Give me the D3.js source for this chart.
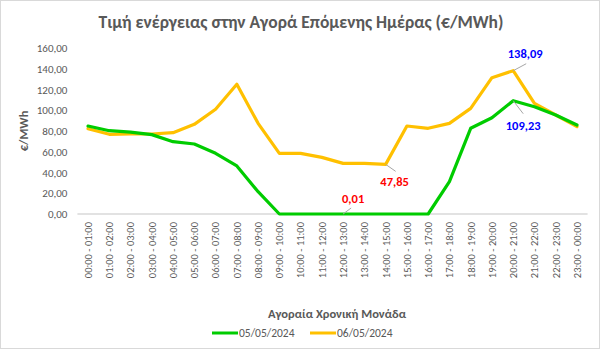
<!DOCTYPE html>
<html>
<head>
<meta charset="utf-8">
<script src="https://cdn.jsdelivr.net/npm/d3@7"></script>
<style>
  body { margin: 0; background: #fff; }
  svg { display: block; font-family: Calibri, Carlito, "Open Sans", "Noto Sans", sans-serif; }
</style>
</head>
<body>
<svg id="chart" width="600" height="349"></svg>
<script>
// Hourly market time units
const hours = [
  "00:00 - 01:00","01:00 - 02:00","02:00 - 03:00","03:00 - 04:00","04:00 - 05:00","05:00 - 06:00",
  "06:00 - 07:00","07:00 - 08:00","08:00 - 09:00","09:00 - 10:00","10:00 - 11:00","11:00 - 12:00",
  "12:00 - 13:00","13:00 - 14:00","14:00 - 15:00","15:00 - 16:00","16:00 - 17:00","17:00 - 18:00",
  "18:00 - 19:00","19:00 - 20:00","20:00 - 21:00","21:00 - 22:00","22:00 - 23:00","23:00 - 00:00"
];

// Day-ahead price, €/MWh
const price0505 = [84.8, 80.3, 79.0, 76.5, 69.7, 67.5, 58.5, 46.3, 21.5, 0, 0, 0,
                   0.01, 0, 0, 0, 0, 31.2, 82.6, 92.8, 109.23, 103.4, 95.4, 85.8];
const price0605 = [82.2, 76.8, 77.1, 77.1, 78.4, 86.4, 100.9, 125.0, 87.4, 58.5, 58.5, 54.6,
                   48.8, 48.8, 47.85, 84.8, 82.6, 87.4, 101.8, 131.4, 138.09, 106.7, 95.4, 84.2];

const yTicks = [0, 20, 40, 60, 80, 100, 120, 140, 160];

const seriesNames = ["05/05/2024", "06/05/2024"];
const seriesColors = ["#00CC00", "#FFC000"];

// Highlighted values: series index, hour index, label colour
const highlights = [
  { s: 0, h: 12, color: "#FF0000" },
  { s: 1, h: 14, color: "#FF0000" },
  { s: 1, h: 20, color: "#0000FF" },
  { s: 0, h: 20, color: "#0000FF" }
];
// Label placement relative to the point: text centre and leader-line end
const highlightOffsets = [
  { tx: 10, ty: -15, lx: 8, ly: -6 },
  { tx: 9, ty: 17, lx: 10, ly: 7 },
  { tx: 12, ty: -17, lx: 13, ly: -7 },
  { tx: 10, ty: 25, lx: 10, ly: 13 }
];

const fmt = v => d3.format(".2f")(v).replace(".", ",");

const svg = d3.select("#chart");
const W = 600, H = 349;

// chart border
svg.append("rect").attr("x", 0.5).attr("y", 0.5).attr("width", W - 1).attr("height", H - 1)
  .attr("fill", "#fff").attr("stroke", "#d9d9d9");

const plot = { left: 77.4, right: 587.6, top: 48, bottom: 214 };

const x = d3.scalePoint().domain(hours).range([plot.left, plot.right]).padding(0.5);
const y = d3.scaleLinear().domain([0, 160]).range([plot.bottom, plot.top]);

const textColor = "#595959";

// title
svg.append("text").attr("x", 301).attr("y", 28).attr("text-anchor", "middle")
  .attr("font-size", 17.5).attr("font-weight", "bold").attr("fill", textColor)
  .text("Τιμή ενέργειας στην Αγορά Επόμενης Ημέρας (€/MWh)");

// y axis
const yAxis = svg.append("g").attr("transform", `translate(${plot.left},0)`)
  .call(d3.axisLeft(y).tickValues(yTicks).tickFormat(fmt).tickSize(0).tickPadding(10));
yAxis.select(".domain").remove();
yAxis.selectAll("text").attr("font-size", 11).attr("fill", textColor)
  .attr("font-family", "Calibri, Carlito, 'Open Sans', sans-serif");

// x axis
const xAxis = svg.append("g").attr("transform", `translate(0,${plot.bottom})`)
  .call(d3.axisBottom(x).tickSize(0).tickPadding(8));
xAxis.select(".domain").attr("stroke", "#d9d9d9").attr("stroke-width", 1.3)
  .attr("d", `M${plot.left},0H${plot.right}`);
xAxis.selectAll(".tick text")
  .attr("font-size", 10.5).attr("fill", textColor)
  .attr("font-family", "Calibri, Carlito, 'Open Sans', sans-serif")
  .attr("transform", "rotate(-90)")
  .attr("text-anchor", "end")
  .attr("y", 0).attr("x", -8).attr("dy", "0.32em");

// axis titles
svg.append("text").attr("transform", "translate(28,131) rotate(-90)")
  .attr("text-anchor", "middle").attr("font-size", 12.5).attr("font-weight", "bold")
  .attr("fill", textColor).text("€/MWh");
svg.append("text").attr("x", 337).attr("y", 318).attr("text-anchor", "middle")
  .attr("font-size", 12.5).attr("font-weight", "bold").attr("fill", textColor)
  .text("Αγοραία Χρονική Μονάδα");

// lines
const series = [price0505, price0605];
const line = d3.line().x((d, i) => x(hours[i])).y(d => y(d));
[1, 0].forEach(si => {
  svg.append("path").datum(series[si])
    .attr("fill", "none").attr("stroke", seriesColors[si]).attr("stroke-width", 3.2)
    .attr("stroke-linejoin", "round").attr("stroke-linecap", "round")
    .attr("d", line);
});

// value labels with leader lines
highlights.forEach((hl, k) => {
  const o = highlightOffsets[k];
  const v = series[hl.s][hl.h];
  const px = x(hours[hl.h]), py = y(v);
  svg.append("line").attr("x1", px).attr("y1", py)
    .attr("x2", px + o.lx).attr("y2", py + o.ly)
    .attr("stroke", "#a6a6a6").attr("stroke-width", 1);
  svg.append("text").attr("x", px + o.tx).attr("y", py + o.ty)
    .attr("dy", "0.35em")
    .attr("text-anchor", "middle").attr("font-size", 12.5).attr("font-weight", "bold")
    .attr("fill", hl.color).text(fmt(v));
});

// legend
const legend = svg.append("g");
const legendItems = [{ x: 212, i: 0 }, { x: 310, i: 1 }];
legendItems.forEach(({ x: lx, i }) => {
  legend.append("line").attr("x1", lx).attr("x2", lx + 26).attr("y1", 333).attr("y2", 333)
    .attr("stroke", seriesColors[i]).attr("stroke-width", 3);
  legend.append("text").attr("x", lx + 27).attr("y", 337).attr("font-size", 11.5)
    .attr("fill", textColor).text(seriesNames[i]);
});
</script>
</body>
</html>
